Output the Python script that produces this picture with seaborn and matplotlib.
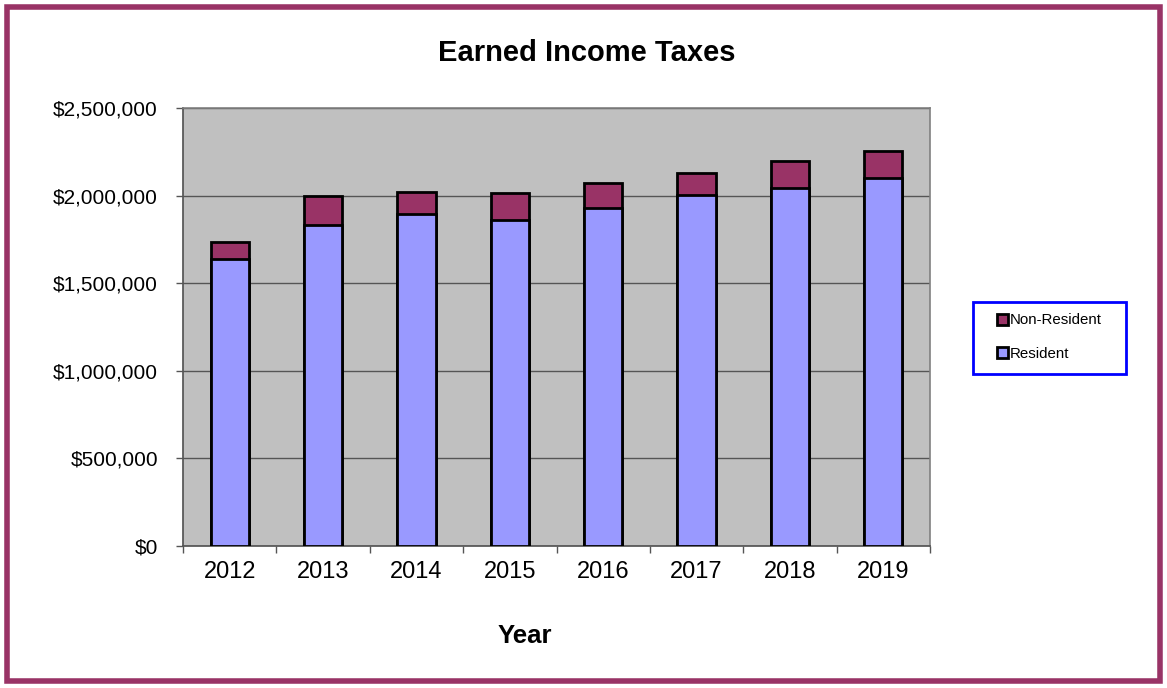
import matplotlib
matplotlib.use("Agg")
import matplotlib.pyplot as plt
import matplotlib.ticker as mticker
from matplotlib.patches import Rectangle, Patch
import seaborn as sns
import pandas as pd

years = ["2012", "2013", "2014", "2015", "2016", "2017", "2018", "2019"]
resident = [1638000, 1832000, 1894000, 1860000, 1927000, 2003000, 2041000, 2098000]
non_resident = [95000, 167000, 128000, 153000, 143000, 124000, 158000, 156000]

totals = [r + n for r, n in zip(resident, non_resident)]
df = pd.DataFrame({"Year": years, "Resident": resident, "Total": totals})

sns.set_theme(style="white")
plt.rcParams["font.family"] = ["Liberation Sans", "DejaVu Sans"]
plt.rcParams["text.color"] = "black"

W, H = 1167, 688
fig = plt.figure(figsize=(W / 100, H / 100), dpi=100)
fig.patch.set_facecolor("white")
fig.patches.append(Rectangle((7 / W, 7 / H), 1 - 14 / W, 1 - 14 / H,
                             transform=fig.transFigure, fill=False,
                             edgecolor="#993366", linewidth=4, zorder=0))

ax = fig.add_axes([183 / W, 1 - 546 / H, (930 - 183) / W, (546 - 108) / H])
ax.set_facecolor("#C0C0C0")

sns.barplot(data=df, x="Year", y="Total", color="#993366", saturation=1,
            edgecolor="black", linewidth=2, width=0.41, ax=ax, zorder=3)
sns.barplot(data=df, x="Year", y="Resident", color="#9999FF", saturation=1,
            edgecolor="black", linewidth=2, width=0.41, ax=ax, zorder=3)

ax.set_ylim(0, 2500000)
ax.set_xlim(-0.5, 7.5)
ax.yaxis.set_major_locator(mticker.MultipleLocator(500000))
ax.yaxis.set_major_formatter(mticker.FuncFormatter(lambda v, p: "${:,.0f}".format(v)))
ax.grid(axis="y", color="#555555", linewidth=1, zorder=0)
ax.set_axisbelow(True)

ax.set_xticks(range(len(years)))
ax.set_xticklabels(years)
ax.set_xticks([i - 0.5 for i in range(len(years) + 1)], minor=True)
ax.tick_params(axis="x", which="major", length=0, pad=10.5, labelsize=17, labelcolor="black")
ax.tick_params(axis="x", which="minor", length=5, width=1, color="#555555", direction="out")
ax.tick_params(axis="y", which="major", length=5, width=1, color="#555555", direction="out",
               labelsize=15, labelcolor="black", pad=13)
ax.tick_params(bottom=True, left=True, which="both")

for side in ["top", "right"]:
    ax.spines[side].set_color("#808080")
    ax.spines[side].set_linewidth(1.2)
ax.spines["left"].set_color("#555555")
ax.spines["bottom"].set_color("#555555")

ax.set_ylabel("")
ax.set_xlabel("")
fig.text(525 / W, 1 - 636 / H, "Year", ha="center", va="center",
         fontsize=18.5, fontweight="bold", color="black")
fig.text(587 / W, 1 - 53 / H, "Earned Income Taxes", ha="center", va="center",
         fontsize=21, fontweight="bold", color="black")

fig.patches.append(Rectangle((973 / W, 1 - 374 / H), 153 / W, 72 / H,
                             transform=fig.transFigure, fill=True, facecolor="white",
                             edgecolor="#0000FF", linewidth=2, zorder=1))
handles = [Patch(facecolor="#993366", edgecolor="black", linewidth=2, label="Non-Resident"),
           Patch(facecolor="#9999FF", edgecolor="black", linewidth=2, label="Resident")]
leg = fig.legend(handles=handles, loc="center", bbox_to_anchor=(1049 / W, 1 - 337 / H),
                 fontsize=10.8, frameon=False, handlelength=0.75, handleheight=0.75,
                 handletextpad=0.1, labelspacing=1.3, borderpad=0, borderaxespad=0)
for t in leg.get_texts():
    t.set_color("black")

fig.savefig("out.png", dpi=100, facecolor="white")
